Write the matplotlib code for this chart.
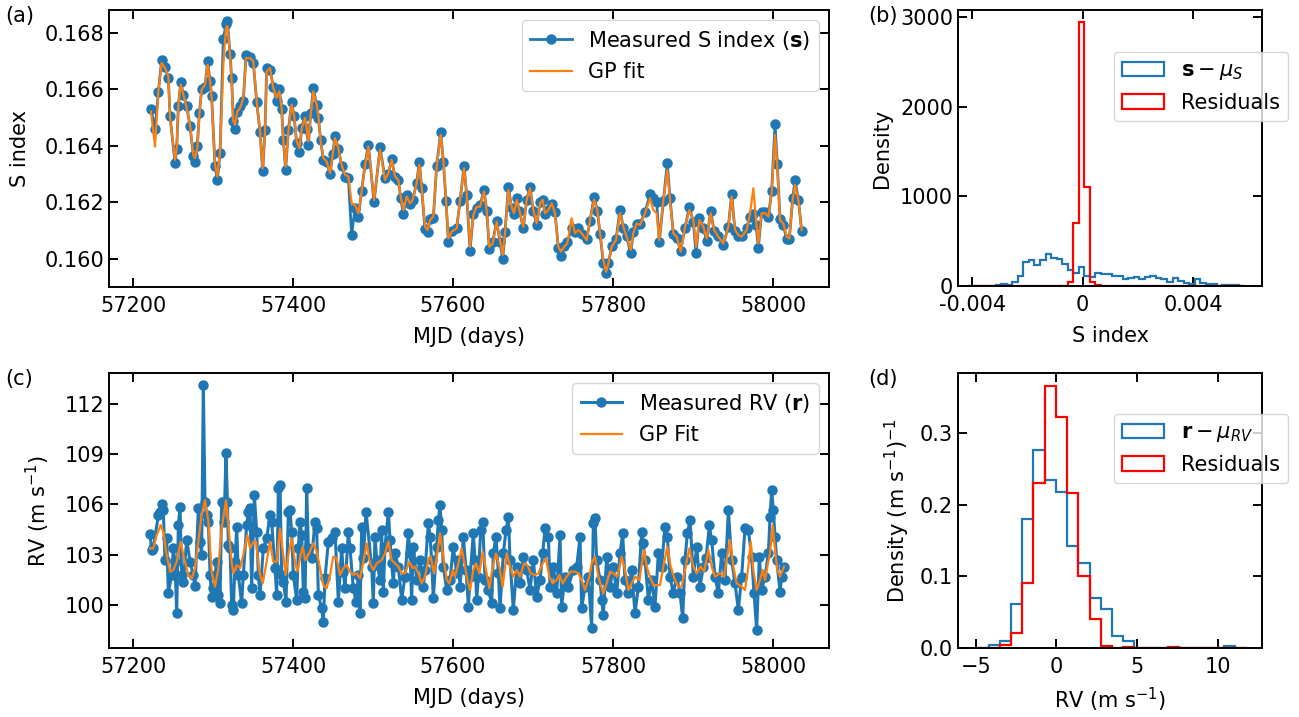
import numpy as np
import matplotlib
matplotlib.use("Agg")
import matplotlib.pyplot as plt

# ---------------- data: S index ----------------
s_mjd = np.array([
    57222.5, 57227.5, 57231.7, 57235.8, 57240.0, 57244.2, 57246.3, 57252.5, 57254.6, 57256.7,
    57259.6, 57263.0, 57267.1, 57271.3, 57275.4, 57277.5, 57280.4, 57282.9, 57285.8, 57290.0,
    57293.3, 57296.3, 57298.3, 57302.5, 57305.4, 57308.8, 57312.9, 57316.3, 57318.0, 57321.3,
    57323.3, 57325.4, 57327.5, 57330.4, 57333.8, 57337.9, 57341.3, 57346.3, 57350.4, 57354.6,
    57358.8, 57362.1, 57365.0, 57367.1, 57371.3, 57375.4, 57379.6, 57382.9, 57385.8, 57387.9,
    57390.8, 57394.2, 57398.3, 57401.3, 57404.6, 57408.0, 57410.9, 57415.0, 57417.1, 57419.2,
    57422.1, 57425.4, 57429.6, 57431.7, 57434.6, 57438.0, 57442.1, 57446.3, 57449.6, 57452.5,
    57456.7, 57460.8, 57465.0, 57469.2, 57473.3, 57477.5, 57481.7, 57485.8, 57490.0, 57494.2,
    57501.3, 57508.8, 57515.0, 57519.2, 57523.3, 57527.5, 57531.7, 57534.6, 57537.9, 57542.1,
    57546.3, 57549.6, 57554.6, 57557.9, 57560.8, 57565.0, 57568.3, 57571.3, 57575.4, 57579.6,
    57584.6, 57587.9, 57591.3, 57594.2, 57598.3, 57604.6, 57608.8, 57613.8, 57617.1, 57621.3,
    57625.4, 57629.6, 57633.8, 57638.8, 57642.1, 57645.4, 57649.6, 57654.6, 57658.8, 57662.1,
    57665.0, 57669.2, 57673.3, 57676.3, 57679.6, 57682.9, 57687.9, 57692.1, 57696.3, 57700.4,
    57704.6, 57708.8, 57712.1, 57715.0, 57719.2, 57723.3, 57727.5, 57731.7, 57735.0, 57738.8,
    57742.9, 57748.3, 57752.5, 57756.7, 57760.8, 57767.1, 57771.3, 57776.3, 57780.4, 57783.8,
    57787.9, 57791.3, 57794.2, 57798.3, 57803.8, 57808.8, 57812.9, 57817.1, 57822.1, 57825.4,
    57829.6, 57833.8, 57840.0, 57846.3, 57850.4, 57854.6, 57857.9, 57862.9, 57867.9, 57871.3,
    57875.4, 57879.6, 57884.6, 57890.0, 57895.4, 57900.4, 57903.8, 57907.9, 57912.9, 57917.1,
    57922.1, 57926.3, 57931.7, 57937.9, 57944.2, 57948.3, 57952.5, 57956.7, 57960.8, 57967.1,
    57971.3, 57975.4, 57978.8, 57981.7, 57985.8, 57990.0, 57994.2, 57998.3, 58002.5, 58005.4,
    58008.8, 58012.9, 58017.1, 58020.4, 58024.6, 58027.5, 58031.7, 58035.8])

s_index = np.array([
    .16530, .16460, .16590, .16705, .16680, .16640, .16505, .16340, .16390, .16540,
    .16625, .16580, .16540, .16470, .16365, .16345, .16400, .16515, .16600, .16610,
    .16700, .16630, .16575, .16330, .16280, .16375, .16780, .16830, .16843, .16725,
    .16640, .16490, .16460, .16520, .16540, .16560, .16722, .16715, .16695, .16555,
    .16450, .16310, .16455, .16675, .16670, .16610, .16560, .16600, .16530, .16420,
    .16315, .16455, .16555, .16505, .16410, .16380, .16465, .16505, .16460, .16405,
    .16515, .16605, .16545, .16500, .16420, .16350, .16345, .16300, .16370, .16435,
    .16390, .16330, .16290, .16285, .16085, .16180, .16150, .16240, .16335, .16405,
    .16200, .16395, .16285, .16300, .16355, .16290, .16280, .16215, .16160, .16225,
    .16195, .16210, .16270, .16345, .16250, .16105, .16095, .16140, .16145, .16330,
    .16450, .16345, .16205, .16060, .16100, .16110, .16205, .16330, .16225, .16030,
    .16160, .16180, .16190, .16245, .16170, .16035, .16060, .16135, .16060, .16000,
    .16095, .16255, .16180, .16160, .16215, .16170, .16110, .16210, .16255, .16170,
    .16120, .16200, .16210, .16160, .16175, .16195, .16165, .16040, .16010, .16045,
    .16060, .16110, .16095, .16110, .16090, .16070, .16135, .16220, .16170, .16090,
    .15985, .15949, .15985, .16045, .16070, .16175, .16110, .16080, .16020, .16095,
    .16125, .16125, .16165, .16230, .16215, .16200, .16060, .16205, .16339, .16215,
    .16090, .16075, .16030, .16110, .16185, .16130, .16020, .16145, .16110, .16065,
    .16170, .16100, .16080, .16050, .16115, .16230, .16100, .16080, .16080, .16110,
    .16150, .16160, .16120, .16040, .16165, .16165, .16150, .16240, .16478, .16335,
    .16140, .16120, .16070, .16070, .16215, .16280, .16210, .16100])

s_gp = np.array([
    .16522, .16398, .16593, .16694, .16676, .16646, .16499, .16351, .16392, .16546,
    .16617, .16581, .16534, .16475, .16369, .16357, .16392, .16510, .16599, .16617,
    .16688, .16629, .16570, .16333, .16292, .16380, .16688, .16818, .16824, .16723,
    .16629, .16487, .16475, .16522, .16534, .16570, .16711, .16711, .16700, .16558,
    .16451, .16321, .16451, .16664, .16676, .16605, .16570, .16593, .16534, .16416,
    .16327, .16451, .16546, .16510, .16416, .16392, .16463, .16499, .16463, .16416,
    .16510, .16593, .16546, .16510, .16416, .16357, .16345, .16304, .16369, .16428,
    .16392, .16333, .16298, .16292, .16197, .16191, .16162, .16239, .16330, .16398,
    .16209, .16386, .16280, .16303, .16351, .16292, .16280, .16221, .16173, .16221,
    .16197, .16209, .16268, .16333, .16256, .16114, .16103, .16138, .16150, .16327,
    .16439, .16351, .16209, .16073, .16097, .16108, .16209, .16321, .16233, .16043,
    .16156, .16185, .16185, .16239, .16173, .16043, .16055, .16132, .16067, .16014,
    .16091, .16244, .16185, .16162, .16209, .16173, .16114, .16209, .16250, .16173,
    .16126, .16197, .16209, .16162, .16173, .16197, .16162, .16043, .16026, .16043,
    .16055, .16144, .16091, .16103, .16091, .16067, .16138, .16209, .16173, .16091,
    .15996, .15955, .15984, .16043, .16067, .16162, .16114, .16079, .16032, .16091,
    .16126, .16120, .16162, .16215, .16173, .16162, .16067, .16209, .16315, .16209,
    .16091, .16079, .16026, .16114, .16173, .16138, .16043, .16138, .16114, .16073,
    .16162, .16103, .16079, .16055, .16114, .16221, .16103, .16085, .16079, .16103,
    .16162, .16250, .16138, .16055, .16162, .16162, .16150, .16233, .16439, .16327,
    .16138, .16126, .16079, .16073, .16209, .16262, .16209, .16103])

# ---------------- data: RV ----------------
rv_mjd = np.array([
    57221.3, 57223.3, 57225.4, 57231.7, 57233.8, 57235.8, 57237.9, 57240.0, 57242.1, 57244.2,
    57248.3, 57250.4, 57252.5, 57254.6, 57256.7, 57258.8, 57260.8, 57262.9, 57267.1, 57271.3,
    57275.4, 57277.5, 57281.7, 57283.8, 57285.8, 57287.9, 57290.0, 57292.1, 57294.2, 57296.3,
    57298.3, 57300.4, 57304.6, 57306.7, 57308.8, 57310.8, 57313.8, 57316.3, 57318.0, 57319.2,
    57321.3, 57323.3, 57325.4, 57327.5, 57329.6, 57331.7, 57335.8, 57337.9, 57342.1, 57344.2,
    57346.3, 57348.3, 57351.7, 57354.6, 57356.7, 57358.8, 57362.9, 57367.1, 57371.3, 57373.3,
    57377.5, 57379.6, 57381.7, 57383.8, 57385.8, 57387.9, 57391.3, 57394.2, 57396.3, 57398.3,
    57400.4, 57404.6, 57406.7, 57408.8, 57410.9, 57412.9, 57415.0, 57417.1, 57419.2, 57423.3,
    57427.5, 57429.6, 57431.7, 57435.8, 57437.9, 57440.0, 57444.2, 57448.3, 57452.5, 57456.7,
    57460.8, 57462.9, 57465.0, 57469.2, 57471.3, 57475.4, 57478.8, 57481.7, 57483.8, 57485.8,
    57487.9, 57491.3,
    57498.3, 57500.4, 57502.5, 57504.6, 57508.8, 57510.8, 57512.9, 57515.0, 57519.2, 57521.3,
    57523.3, 57525.4, 57527.5, 57531.7, 57535.8, 57540.0, 57544.2, 57546.3, 57548.3, 57550.4,
    57554.6, 57558.8, 57562.9, 57565.0, 57569.2, 57571.3, 57573.3, 57575.4, 57579.6, 57581.7,
    57583.8, 57585.8, 57587.9, 57592.1, 57596.3, 57600.4, 57604.6, 57606.7, 57608.8, 57612.9,
    57616.3, 57619.2, 57621.3, 57625.4, 57627.5, 57629.6, 57631.7, 57634.6, 57637.1, 57640.0,
    57644.2, 57648.3, 57650.4, 57653.8, 57656.7, 57658.8, 57662.9, 57666.3, 57669.2, 57671.3,
    57675.4, 57679.6, 57683.8, 57687.9, 57692.1, 57696.3, 57700.4, 57704.6, 57708.8, 57712.1,
    57715.0, 57719.2, 57721.3, 57725.4, 57729.6, 57733.8, 57735.8, 57740.0, 57744.2, 57750.4,
    57754.6, 57758.8, 57760.8, 57765.0,
    57769.2, 57773.3, 57775.4, 57777.5, 57779.6, 57783.8, 57785.8, 57787.9, 57792.1, 57796.3,
    57800.4, 57804.6, 57808.8, 57812.1, 57815.0, 57819.2, 57823.3, 57827.5, 57831.7, 57835.8,
    57837.9, 57840.0, 57844.2, 57848.3, 57852.5, 57856.7, 57860.8, 57865.0, 57867.9, 57871.3,
    57875.4, 57879.6, 57883.8, 57887.1, 57890.0, 57892.9, 57896.3, 57900.4, 57904.6, 57908.8,
    57912.9, 57916.3, 57920.4, 57923.3, 57927.5, 57931.7, 57935.8, 57940.0, 57944.2, 57948.3,
    57952.5, 57956.7, 57960.8, 57965.0, 57969.2, 57973.3, 57976.3, 57979.6, 57982.9, 57985.8,
    57990.0, 57994.2, 57996.3, 57998.3, 58000.4, 58002.5, 58004.6, 58008.8, 58010.8, 58013.8])

rv = np.array([
    104.21, 103.28, 103.38, 105.37, 105.57, 106.00, 105.67, 102.68, 103.98, 100.70,
    101.79, 103.38, 102.58, 99.50, 104.77, 105.86, 101.79, 101.39, 103.88, 102.58,
    101.79, 101.13, 105.77, 103.78, 102.98, 113.12, 106.16, 105.37, 104.97, 101.79,
    100.50, 100.99, 102.58, 100.60, 100.10, 106.16, 104.97, 109.05, 106.16, 103.58,
    103.38, 100.00, 99.70, 102.58, 104.67, 101.79, 100.10, 101.79, 104.77, 105.57,
    105.77, 100.99, 106.56, 104.37, 101.79, 100.60, 103.38, 103.98, 105.37, 104.97,
    102.19, 100.60, 106.96, 107.16, 101.79, 101.39, 100.20, 105.57, 105.67, 104.37,
    101.79, 100.30, 103.38, 104.97, 104.17, 100.80, 100.40, 106.96, 103.38, 102.78,
    104.97, 104.57, 100.60, 99.80, 99.01, 101.59, 103.78, 103.98, 104.37, 100.20,
    103.38, 101.99, 100.99, 104.37, 103.38, 100.99, 100.20, 101.79, 99.50, 104.67,
    102.78, 105.57,
    102.29, 100.10, 104.08, 102.68, 101.49, 104.47, 100.79, 103.48, 105.57, 103.88,
    102.48, 101.29, 103.08, 102.29, 100.30, 101.69, 104.27, 103.08, 100.30, 103.48,
    101.49, 102.68, 101.09, 102.09, 104.87, 104.08, 102.68, 100.40, 103.48, 105.07,
    105.96, 104.47, 102.29, 100.89, 101.49, 103.48, 101.89, 102.68, 101.09, 104.08,
    102.09, 99.90, 101.69, 104.27, 102.68, 100.30, 101.69, 104.47, 104.97, 101.49,
    100.89, 100.10, 103.08, 104.08, 101.89, 99.80, 103.08, 104.47, 105.27, 102.68,
    99.70, 102.29, 101.29, 102.88, 102.09, 100.89, 102.68, 100.50, 101.49, 103.08,
    104.57, 104.08, 101.09, 102.29, 100.69, 104.17, 99.90, 101.69, 101.09, 102.09,
    102.29, 104.08, 99.80, 101.09,
    101.69, 98.61, 104.87, 105.17, 102.68, 101.49, 100.30, 99.40, 102.88, 101.09,
    102.29, 100.69, 103.08, 104.27, 101.49, 100.69, 102.09, 99.50, 101.09, 104.37,
    103.68, 102.68, 100.30, 101.49, 99.90, 103.08, 102.29, 104.67, 104.08, 101.69,
    100.69, 101.69, 100.69, 99.20, 102.68, 104.27, 105.07, 101.69, 103.48, 101.09,
    102.29, 102.78, 104.77, 103.88, 101.69, 100.69, 103.08, 101.49, 105.66, 102.68,
    101.29, 99.70, 101.69, 104.57, 104.47, 102.88, 100.69, 98.51, 102.88, 100.89,
    101.69, 103.08, 105.27, 106.86, 105.66, 104.08, 102.68, 100.79, 101.69, 102.29])

rv_gp_mjd = np.array([
    57221.3, 57225.4, 57229.6, 57234.6, 57237.9, 57242.1, 57246.3, 57250.4, 57254.6, 57259.6,
    57263.8, 57269.2, 57273.3, 57277.5, 57281.7, 57285.8, 57290.0, 57294.2, 57298.3, 57302.5,
    57306.7, 57310.8, 57316.3, 57319.2, 57323.3, 57325.4, 57329.6, 57333.8, 57337.9, 57342.9,
    57346.3, 57350.4, 57353.8, 57357.9, 57362.1, 57366.3, 57371.3, 57375.4, 57379.6, 57383.8,
    57387.9, 57390.8, 57394.2, 57398.3, 57402.5, 57405.4, 57408.8, 57412.1, 57415.4, 57419.2,
    57425.4, 57429.6, 57433.8, 57437.9, 57442.1, 57446.3, 57450.4, 57454.6, 57458.8, 57462.9,
    57467.1, 57471.3, 57475.4, 57479.6, 57483.8, 57487.9, 57492.1,
    57496.3, 57500.4, 57504.6, 57510.8, 57515.0, 57519.2, 57523.3, 57527.5, 57531.7, 57535.8,
    57540.0, 57545.4, 57549.6, 57552.5, 57556.7, 57560.8, 57565.0, 57569.2, 57572.1, 57576.3,
    57580.4, 57583.8, 57587.9, 57592.1, 57595.4, 57599.6, 57602.5, 57606.7, 57610.8, 57615.0,
    57617.9, 57621.3, 57625.4, 57628.8, 57632.9, 57637.1, 57641.3, 57645.4, 57649.6, 57653.8,
    57658.8, 57662.1, 57667.1, 57671.3, 57675.4, 57679.6, 57683.8, 57688.8, 57692.9, 57697.1,
    57702.5, 57706.7, 57712.1, 57716.3, 57720.4, 57724.6, 57729.6, 57732.9, 57737.1, 57742.1,
    57747.1, 57752.5, 57756.7, 57760.8, 57765.0, 57770.4,
    57773.3, 57777.5, 57781.7, 57787.9, 57792.1, 57796.3, 57800.4, 57805.4, 57810.8, 57815.0,
    57819.2, 57823.3, 57827.5, 57832.9, 57838.8, 57842.1, 57846.3, 57850.4, 57858.8, 57862.9,
    57867.9, 57872.1, 57877.5, 57881.7, 57885.8, 57890.0, 57895.4, 57900.4, 57904.6, 57909.6,
    57913.8, 57919.2, 57923.3, 57927.5, 57933.8, 57938.8, 57942.1, 57946.3, 57950.4, 57954.6,
    57960.8, 57965.0, 57969.2, 57972.1, 57975.4, 57979.6, 57983.8, 57987.1, 57990.0, 57992.9,
    57996.3, 57999.6, 58002.5, 58005.4, 58008.8, 58013.8])

rv_gp = np.array([
    103.38, 103.38, 104.17, 104.77, 104.37, 102.98, 101.99, 102.09, 102.58, 103.78,
    102.78, 101.79, 101.59, 102.19, 103.78, 105.37, 106.26, 104.97, 101.99, 101.09,
    102.19, 104.57, 106.26, 104.77, 102.58, 101.89, 102.38, 102.19, 102.98, 104.17,
    103.38, 103.78, 103.78, 101.99, 101.29, 102.38, 103.78, 102.58, 102.58, 104.57,
    102.98, 101.79, 102.98, 103.98, 102.58, 101.99, 102.78, 103.48, 102.68, 102.98,
    103.68, 103.18, 102.19, 101.19, 100.99, 101.79, 102.88, 102.78, 101.79, 102.19,
    102.38, 101.99, 101.79, 101.89, 101.59, 102.58, 103.68,
    102.48, 102.09, 102.48, 102.68, 103.08, 103.78, 102.68, 102.48, 102.29, 101.89,
    101.89, 102.58, 102.19, 102.29, 101.89, 101.29, 101.69, 102.68, 102.88, 101.89,
    103.08, 104.27, 102.88, 101.49, 101.29, 102.09, 101.69, 102.48, 103.38, 102.29,
    101.49, 100.89, 102.09, 102.48, 101.89, 103.18, 102.09, 100.99, 102.29, 103.08,
    102.09, 101.09, 103.08, 102.29, 101.69, 102.09, 101.69, 102.48, 102.38, 101.89,
    101.79, 101.89, 102.48, 102.78, 101.69, 101.29, 101.49, 101.79, 101.29, 101.69,
    101.99, 101.99, 101.89, 101.49, 100.89, 101.69,
    102.48, 102.88, 101.69, 100.69, 101.29, 101.99, 101.89, 101.69, 102.88, 102.09,
    100.89, 101.29, 101.69, 101.49, 103.28, 102.29, 101.69, 101.19, 101.19, 102.29,
    103.48, 102.29, 101.49, 101.09, 101.09, 102.09, 103.38, 102.29, 101.89, 102.29,
    101.99, 103.28, 102.29, 101.69, 101.89, 101.69, 102.68, 103.88, 102.29, 101.29,
    101.09, 100.89, 102.29, 103.78, 102.09, 100.89, 101.49, 102.09, 101.49, 102.29,
    103.08, 104.77, 103.28, 102.09, 101.69, 102.29])

# ---------------- data: histograms ----------------
s_bin_edges = np.linspace(-0.00414, 0.00586, 51)
s_hist_density = np.array([
    0, 0, 0, 0, 5, 15, 20, 10, 40, 110,
    270, 290, 230, 290, 360, 310, 300, 240, 180, 140,
    215, 110, 100, 140, 130, 130, 110, 110, 80, 90,
    100, 80, 95, 110, 90, 80, 40, 90, 60, 30,
    20, 80, 30, 25, 20, 0, 10, 10, 10, 0])
s_resid_density = np.array([
    0, 0, 0, 0, 0, 0, 0, 0, 0, 0,
    0, 0, 0, 0, 5, 0, 0, 0, 50, 700,
    2940, 1100, 40, 10, 0, 5, 0, 0, 0, 0,
    0, 0, 0, 0, 0, 0, 0, 0, 0, 0,
    0, 0, 0, 0, 0, 0, 0, 0, 0, 0])

rv_bin_edges = np.linspace(-4.9, 11.8, 25)
rv_hist_density = np.array([
    0, 0.004, 0.010, 0.061, 0.180, 0.277, 0.234, 0.218, 0.142, 0.119,
    0.070, 0.055, 0.017, 0.010, 0, 0, 0, 0, 0, 0,
    0, 0, 0.003, 0])
rv_resid_density = np.array([
    0, 0, 0.004, 0.021, 0.091, 0.231, 0.366, 0.323, 0.216, 0.101,
    0.041, 0.003, 0, 0.0015, 0, 0, 0, 0.002, 0, 0,
    0, 0, 0, 0])

# ---------------- style ----------------
plt.rcParams['font.family'] = ['DejaVu Sans']
plt.rcParams['font.size'] = 15
plt.rcParams['axes.linewidth'] = 1.4
plt.rcParams['mathtext.fontset'] = 'dejavusans'

BLUE = '#1f77b4'
ORANGE = '#ff7f0e'

fig = plt.figure(figsize=(12.99, 7.17), dpi=100)
W, H = 1299.0, 717.0

def add_ax(l, t, r, b):
    return fig.add_axes([l / W, 1 - b / H, (r - l) / W, (b - t) / H])

ax_a = add_ax(109, 10, 829, 287)
ax_b = add_ax(958, 10, 1262, 286)
ax_c = add_ax(109, 373, 829, 648)
ax_d = add_ax(958, 373, 1262, 648)

for ax in (ax_a, ax_b, ax_c, ax_d):
    ax.tick_params(direction='in', top=True, right=True, length=6.5, width=1.4,
                   labelsize=15)
    ax.tick_params(axis='x', pad=6.5)

# (a)
ax_a.plot(s_mjd, s_index, '-o', color=BLUE, lw=2, ms=6.5, label=r'Measured S index ($\mathbf{s}$)')
ax_a.plot(s_mjd, s_gp, '-', color=ORANGE, lw=1.6, label='GP fit')
ax_a.set_xlim(57170, 58070)
ax_a.set_ylim(0.15901, 0.16881)
ax_a.set_xticks([57200, 57400, 57600, 57800, 58000])
ax_a.set_yticks([0.160, 0.162, 0.164, 0.166, 0.168])
ax_a.set_xlabel('MJD (days)', labelpad=8)
ax_a.set_ylabel('S index', labelpad=10)
ax_a.legend(loc='upper right', fontsize=15)

# (c)
ax_c.plot(rv_mjd, rv, '-o', color=BLUE, lw=2.2, ms=6.5, label=r'Measured RV ($\mathbf{r}$)')
ax_c.plot(rv_gp_mjd, rv_gp, '-', color=ORANGE, lw=1.6, label='GP Fit')
ax_c.set_xlim(57170, 58070)
ax_c.set_ylim(97.43, 113.85)
ax_c.set_xticks([57200, 57400, 57600, 57800, 58000])
ax_c.set_yticks([100, 103, 106, 109, 112])
ax_c.set_xlabel('MJD (days)', labelpad=8)
ax_c.set_ylabel(r'RV (m s$^{-1}$)', labelpad=9)
ax_c.legend(loc='upper right', fontsize=15)

# (b)
ax_b.hist(s_bin_edges[:-1], bins=s_bin_edges, weights=s_hist_density, histtype='step',
          color=BLUE, lw=1.6, label=r'$\mathbf{s} - \mu_S$')
ax_b.hist(s_bin_edges[:-1], bins=s_bin_edges, weights=s_resid_density, histtype='step',
          color='red', lw=1.6, label='Residuals')
ax_b.set_xlim(-0.00451, 0.0065)
ax_b.set_ylim(0, 3078)
ax_b.set_xticks([-0.004, 0, 0.004])
ax_b.set_xticklabels(['-0.004', '0', '0.004'])
ax_b.set_yticks([0, 1000, 2000, 3000])
ax_b.set_xlabel('S index', labelpad=8)
ax_b.set_ylabel('Density', labelpad=6)
ax_b.legend(loc='upper right', bbox_to_anchor=(1.086, 0.848), borderaxespad=0, fontsize=15)

# (d)
ax_d.hist(rv_bin_edges[:-1], bins=rv_bin_edges, weights=rv_hist_density, histtype='step',
          color=BLUE, lw=1.6, label=r'$\mathbf{r} - \mu_{RV}$')
ax_d.hist(rv_bin_edges[:-1], bins=rv_bin_edges, weights=rv_resid_density, histtype='step',
          color='red', lw=1.6, label='Residuals')
ax_d.set_xlim(-6.1, 12.76)
ax_d.set_ylim(0, 0.384)
ax_d.set_xticks([-5, 0, 5, 10])
ax_d.set_yticks([0.0, 0.1, 0.2, 0.3])
ax_d.set_xlabel(r'RV (m s$^{-1}$)', labelpad=6)
ax_d.set_ylabel(r'Density (m s$^{-1}$)$^{-1}$', labelpad=6)
ax_d.legend(loc='upper right', bbox_to_anchor=(1.086, 0.851), borderaxespad=0, fontsize=15)

# panel labels
fig.text(5 / W, 1 - 16 / H, '(a)', va='center', ha='left', fontsize=15)
fig.text(868 / W, 1 - 16 / H, '(b)', va='center', ha='left', fontsize=15)
fig.text(5 / W, 1 - 379 / H, '(c)', va='center', ha='left', fontsize=15)
fig.text(868 / W, 1 - 379 / H, '(d)', va='center', ha='left', fontsize=15)

fig.savefig('out.png', dpi=100)
